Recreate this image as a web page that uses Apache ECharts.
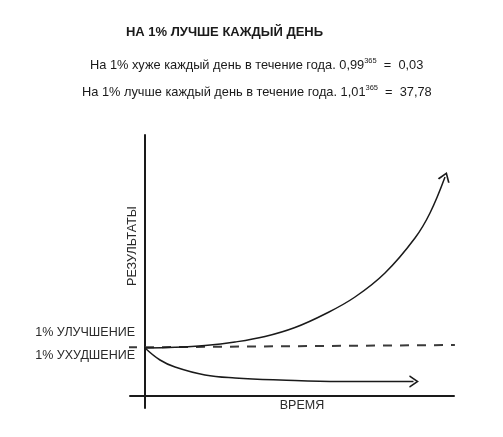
<!DOCTYPE html>
<html>
<head>
<meta charset="utf-8">
<script src="https://cdn.jsdelivr.net/npm/echarts@6/dist/echarts.min.js"></script>
<style>
  html, body { margin: 0; padding: 0; background: #fff; }
  #chart { width: 503px; height: 437px; }
</style>
</head>
<body>
<div id="chart"></div>
<script>
const FONT = "'Liberation Sans', Arial, sans-serif"
const INK = '#1a1a1a'

// time (x) and results (y)
const growthX = [0, 10, 20, 30, 40, 50, 60, 70, 80, 90, 95, 100]
const growthY = [4.8, 4.87, 5.05, 5.4, 5.95, 6.85, 8.2, 9.9, 12.3, 15.8, 18.3, 21.9]
const declineX = [0, 5, 10, 20, 30, 45, 65, 89.5]
const declineY = [4.8, 3.6, 2.9, 2.1, 1.8, 1.6, 1.45, 1.45]
const baselineX = [-34, 103.3]
const baselineY = [4.8, 5.1]

const ARROW = 'path://M0,10 L7,0 L14,10'

function withArrow(xs, ys, rotate) {
  return xs.map((x, i) => {
    const last = i === xs.length - 1
    return {
      value: [x, ys[i]],
      symbol: last ? ARROW : 'none',
      symbolSize: last ? [11, 8] : 0,
      symbolRotate: rotate,
    }
  })
}

const chart = echarts.init(document.getElementById('chart'))

const lineRich = {
  a: { fontFamily: FONT, fontSize: 12.8, lineHeight: 16, fill: INK },
  s: { fontFamily: FONT, fontSize: 7.5, lineHeight: 16, verticalAlign: 'top', fill: INK },
}

chart.setOption({
  animation: false,
  backgroundColor: '#fff',
  grid: { left: 130, right: 49, top: 135, bottom: 29 },
  xAxis: {
    type: 'value',
    min: -5,
    max: 103,
    axisLine: { onZero: true, lineStyle: { color: INK, width: 2 } },
    axisTick: { show: false },
    axisLabel: { show: false },
    splitLine: { show: false },
  },
  yAxis: {
    type: 'value',
    min: -1.2,
    max: 26.1,
    axisLine: { show: true, onZero: true, lineStyle: { color: INK, width: 2 } },
    axisTick: { show: false },
    axisLabel: { show: false },
    splitLine: { show: false },
  },
  series: [
    {
      type: 'line',
      data: baselineX.map((x, i) => [x, baselineY[i]]),
      symbol: 'none',
      clip: false,
      lineStyle: { color: '#3a3a3a', width: 2, type: [9, 8] },
    },
    {
      type: 'line',
      data: withArrow(growthX, growthY, -20),
      smooth: 0.4,
      showAllSymbol: true,
      clip: false,
      lineStyle: { color: INK, width: 1.5 },
      itemStyle: { color: 'rgba(0,0,0,0)', borderColor: INK, borderWidth: 1.5 },
    },
    {
      type: 'line',
      data: withArrow(declineX, declineY, -90),
      smooth: 0.4,
      showAllSymbol: true,
      clip: false,
      lineStyle: { color: INK, width: 1.5 },
      itemStyle: { color: 'rgba(0,0,0,0)', borderColor: INK, borderWidth: 1.5 },
    },
  ],
  graphic: [
    {
      type: 'text', x: 224.5, y: 32,
      style: {
        text: 'НА 1% ЛУЧШЕ КАЖДЫЙ ДЕНЬ', fill: INK,
        font: 'bold 13px ' + FONT, align: 'center', verticalAlign: 'middle',
      },
    },
    {
      type: 'text', x: 90, y: 65,
      style: {
        text: '{a|На 1% хуже каждый день в течение года. 0,99}{s|365}{a|  =  0,03}',
        fill: INK, align: 'left', verticalAlign: 'middle', rich: lineRich,
      },
    },
    {
      type: 'text', x: 82, y: 92,
      style: {
        text: '{a|На 1% лучше каждый день в течение года. 1,01}{s|365}{a|  =  37,78}',
        fill: INK, align: 'left', verticalAlign: 'middle', rich: lineRich,
      },
    },
    {
      type: 'text', x: 135, y: 333,
      style: { text: '1% УЛУЧШЕНИЕ', fill: '#2a2a2a', font: '12.5px ' + FONT, align: 'right', verticalAlign: 'middle' },
    },
    {
      type: 'text', x: 135, y: 356,
      style: { text: '1% УХУДШЕНИЕ', fill: '#2a2a2a', font: '12.5px ' + FONT, align: 'right', verticalAlign: 'middle' },
    },
    {
      type: 'text', x: 132.5, y: 246, rotation: Math.PI / 2,
      style: { text: 'РЕЗУЛЬТАТЫ', fill: '#2a2a2a', font: '12.5px ' + FONT, align: 'center', verticalAlign: 'middle' },
    },
    {
      type: 'text', x: 302, y: 406,
      style: { text: 'ВРЕМЯ', fill: '#2a2a2a', font: '12.5px ' + FONT, align: 'center', verticalAlign: 'middle' },
    },
  ],
})
</script>
</body>
</html>
